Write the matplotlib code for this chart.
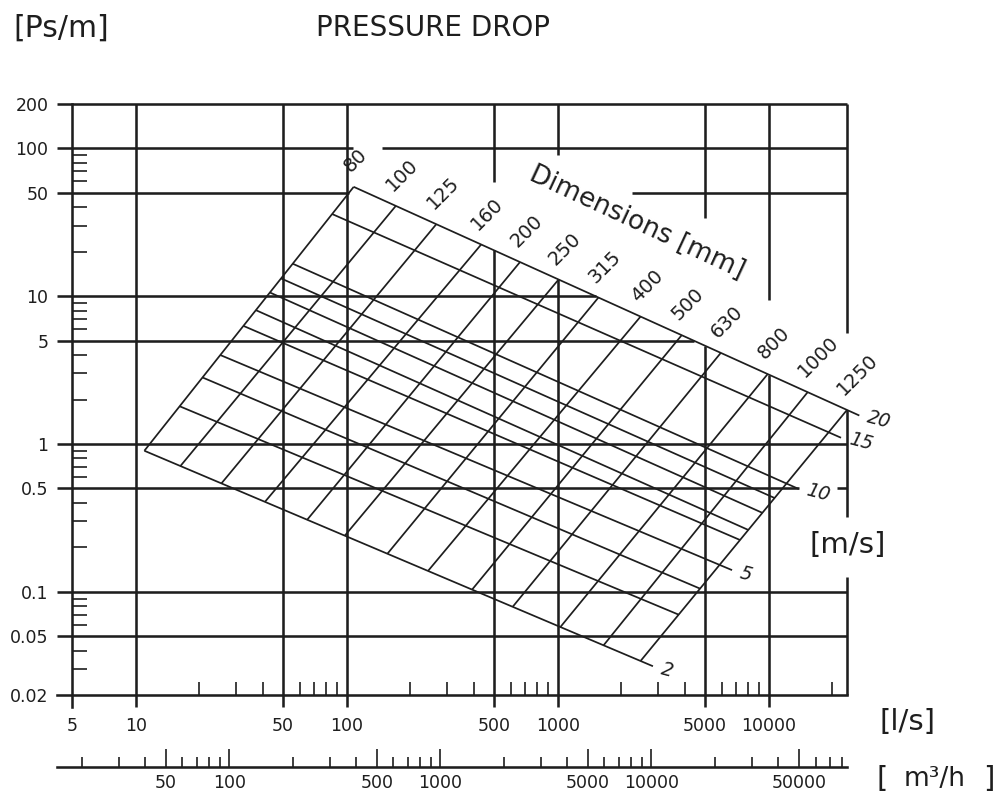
import numpy as np
import matplotlib.pyplot as plt
from matplotlib.ticker import FixedLocator, FixedFormatter, NullFormatter

# ---- values ----
# duct dimension lines: flow (l/s) where each one meets the 2 m/s and the 20 m/s line
dims = [80, 100, 125, 160, 200, 250, 315, 400, 500, 630, 800, 1000, 1250]
flow_at_2ms = [11, 16.3, 25.5, 41, 65, 98, 156, 243, 393, 612, 1030, 1650, 2470]
flow_at_20ms = [108, 171, 266, 434, 663, 1010, 1560, 2470, 3870, 5930, 9890, 15300, 23500]

# velocity lines: pressure drop (Pa/m) where each one meets the 80 mm and the 1250 mm line
speeds = [2, 3, 4, 5, 6, 7, 8, 9, 10, 15, 20]
dp_at_80mm = [0.90, 1.80, 2.82, 4.0, 6.3, 8.05, 10.6, 13.2, 16.6, 36, 55]
dp_at_1250mm = [0.034, 0.070, 0.105, 0.152, 0.224, 0.262, 0.342, 0.431, 0.54, 1.20, 1.70]
labelled_speeds = [2, 5, 10, 15, 20]

x_major = [5, 10, 50, 100, 500, 1000, 5000, 10000]
x_minor = [20, 30, 40, 60, 70, 80, 90, 200, 300, 400, 600, 700, 800, 900,
           2000, 3000, 4000, 6000, 7000, 8000, 9000, 20000]
y_major = [0.02, 0.05, 0.1, 0.5, 1, 5, 10, 50, 100, 200]
y_labels = ['0.02', '0.05', '0.1', '0.5', '1', '5', '10', '50', '100', '200']
y_minor = [0.03, 0.04, 0.06, 0.07, 0.08, 0.09, 0.2, 0.3, 0.4, 0.6, 0.7, 0.8, 0.9,
           2, 3, 4, 6, 7, 8, 9, 20, 30, 40, 60, 70, 80, 90]
m3h_major = [50, 100, 500, 1000, 5000, 10000, 50000]
m3h_minor = [20, 30, 40, 60, 70, 80, 90, 200, 300, 400, 600, 700, 800, 900,
             2000, 3000, 4000, 6000, 7000, 8000, 9000,
             20000, 30000, 40000, 60000, 70000, 80000]

x_left, x_right = 4.24, 23500
y_bottom, y_top = 10 ** -1.78, 200

# places where the grid is broken to leave room for the labels
gap_100 = (107, 147)
line_50_restart = 2240
gap_05 = (13970, 21100)
vert_stop = {500: 59, 1000: 90, 5000: 34, 10000: 9.4}
right_stop_1 = 5.6
right_gap_2 = (0.32, 0.126)

INK = '#1e1e1e'
GRID_LW = 1.85
NOMO_LW = 1.25

L = np.log10


def y_on(q, qa, pa, qb, pb):
    t = (L(q) - L(qa)) / (L(qb) - L(qa))
    return 10 ** (L(pa) + t * (L(pb) - L(pa)))


def x_on(p, qa, pa, qb, pb):
    t = (L(p) - L(pa)) / (L(pb) - L(pa))
    return 10 ** (L(qa) + t * (L(qb) - L(qa)))


fig = plt.figure(figsize=(9.96, 7.96), dpi=100)
ax = fig.add_axes([57 / 996, 89 / 796, 790 / 996, 603 / 796])
ax.set_xscale('log')
ax.set_yscale('log')
ax.set_xlim(x_left, x_right)
ax.set_ylim(y_bottom, y_top)
ax.patch.set_alpha(0)

for s in ['top', 'right']:
    ax.spines[s].set_visible(False)
ax.spines['left'].set_position(('data', 5))
ax.spines['bottom'].set_position(('data', 0.02))
for s in ['left', 'bottom']:
    ax.spines[s].set_linewidth(GRID_LW)
    ax.spines[s].set_color(INK)

ax.xaxis.set_major_locator(FixedLocator(x_major))
ax.xaxis.set_major_formatter(FixedFormatter([str(v) for v in x_major]))
ax.xaxis.set_minor_locator(FixedLocator(x_minor))
ax.xaxis.set_minor_formatter(NullFormatter())
ax.yaxis.set_major_locator(FixedLocator(y_major))
ax.yaxis.set_major_formatter(FixedFormatter(y_labels))
ax.yaxis.set_minor_locator(FixedLocator(y_minor))
ax.yaxis.set_minor_formatter(NullFormatter())
ax.tick_params(which='major', length=0, labelsize=12.5, colors=INK)
ax.tick_params(axis='x', which='major', pad=16)
ax.tick_params(axis='y', which='major', pad=17)
ax.tick_params(which='minor', direction='in', width=1.2, color=INK)
ax.tick_params(axis='x', which='minor', length=9.5)
ax.tick_params(axis='y', which='minor', length=11)


def seg(x0, y0, x1, y1, lw=GRID_LW):
    ax.plot([x0, x1], [y0, y1], color=INK, lw=lw, solid_capstyle='butt', clip_on=False)


# nomogram edges
edge80 = (flow_at_2ms[0], dp_at_80mm[0], flow_at_20ms[0], dp_at_80mm[-1])
edge1250 = (flow_at_2ms[-1], dp_at_1250mm[0], flow_at_20ms[-1], dp_at_1250mm[-1])
edge_low = (flow_at_2ms[0], dp_at_80mm[0], flow_at_2ms[-1], dp_at_1250mm[0])
edge_high = (flow_at_20ms[0], dp_at_80mm[-1], flow_at_20ms[-1], dp_at_1250mm[-1])

# horizontal grid
for p in [200, 1, 0.1, 0.05]:
    seg(x_left, p, x_right, p)
seg(x_left, 100, gap_100[0], 100)
seg(gap_100[1], 100, x_right, 100)
seg(x_left, 50, x_on(50, *edge80), 50)
seg(line_50_restart, 50, x_right, 50)
for p in [10, 5]:
    seg(x_left, p, x_on(p, *edge_high), p)
seg(x_left, 0.5, gap_05[0], 0.5)
seg(gap_05[1], 0.5, x_right, 0.5)

# vertical grid
for q in [10, 50, 100]:
    seg(q, y_bottom, q, y_top)
for q, stop in vert_stop.items():
    seg(q, y_top, q, stop)
    seg(q, y_on(q, *edge_high), q, y_bottom)
seg(x_right, y_top, x_right, right_stop_1)
seg(x_right, dp_at_1250mm[-1], x_right, right_gap_2[0])
seg(x_right, right_gap_2[1], x_right, 0.02)

# duct dimension lines
for d, q_lo, q_hi in zip(dims, flow_at_2ms, flow_at_20ms):
    p_lo = y_on(q_lo, *edge_low)
    p_hi = y_on(q_hi, *edge_high)
    seg(q_lo, p_lo, q_hi, p_hi, lw=NOMO_LW)
    ax.annotate(str(d), (q_hi, p_hi), xytext=(0, 8), textcoords='offset points',
                rotation=45, rotation_mode='anchor', ha='left', va='bottom',
                fontsize=14, color=INK, annotation_clip=False)

# velocity lines
for v, p_l, p_r in zip(speeds, dp_at_80mm, dp_at_1250mm):
    q_l = x_on(p_l, *edge80)
    q_r = x_on(p_r, *edge1250)
    if v in labelled_speeds:
        # labelled lines run on a little past the last duct line
        lq = L(q_r) + 0.025 * (L(q_r) - L(q_l))
        lp = L(p_r) + 0.025 * (L(p_r) - L(p_l))
        q_r, p_r = 10 ** lq, 10 ** lp
        ax.annotate(str(v), (q_r, p_r), xytext=(4, -3), textcoords='offset points',
                    rotation=-15, ha='left', va='center', fontsize=13.5,
                    style='italic', color=INK, annotation_clip=False)
    seg(q_l, p_l, q_r, p_r, lw=NOMO_LW)

fig.text(637 / 996, 1 - 223 / 796, 'Dimensions [mm]', rotation=-25,
         ha='center', va='center', fontsize=19, color=INK)

# second flow scale in m3/h
ax2 = fig.add_axes([57 / 996, 29 / 796, 790 / 996, 0.02])
ax2.set_xscale('log')
ax2.set_xlim(x_left * 3.6, x_right * 3.6)
ax2.patch.set_alpha(0)
for s in ['top', 'left', 'right']:
    ax2.spines[s].set_visible(False)
ax2.spines['bottom'].set_linewidth(GRID_LW)
ax2.spines['bottom'].set_color(INK)
ax2.set_yticks([])
ax2.xaxis.set_major_locator(FixedLocator(m3h_major))
ax2.xaxis.set_major_formatter(FixedFormatter([str(v) for v in m3h_major]))
ax2.xaxis.set_minor_locator(FixedLocator(m3h_minor))
ax2.xaxis.set_minor_formatter(NullFormatter())
ax2.tick_params(axis='x', which='major', direction='in', length=13, width=1.2,
                pad=5, labelsize=12.5, colors=INK)
ax2.tick_params(axis='x', which='minor', direction='in', length=7.5, width=1.2, color=INK)

# titles and units
fig.text(13 / 996, 1 - 28 / 796, '[Ps/m]', ha='left', va='center', fontsize=21.5, color=INK)
fig.text(433 / 996, 1 - 28 / 796, 'PRESSURE DROP', ha='center', va='center',
         fontsize=20, color=INK)
fig.text(848 / 996, 1 - 545 / 796, '[m/s]', ha='center', va='center', fontsize=21, color=INK)
fig.text(907 / 996, 1 - 722 / 796, '[l/s]', ha='center', va='center', fontsize=21, color=INK)
fig.text(882 / 996, 1 - 779 / 796, '[', ha='center', va='center', fontsize=21, color=INK)
fig.text(935 / 996, 1 - 779 / 796, 'm³/h', ha='center', va='center', fontsize=19, color=INK)
fig.text(989 / 996, 1 - 779 / 796, ']', ha='center', va='center', fontsize=21, color=INK)

fig.savefig('out.png', dpi=100, facecolor='white')
